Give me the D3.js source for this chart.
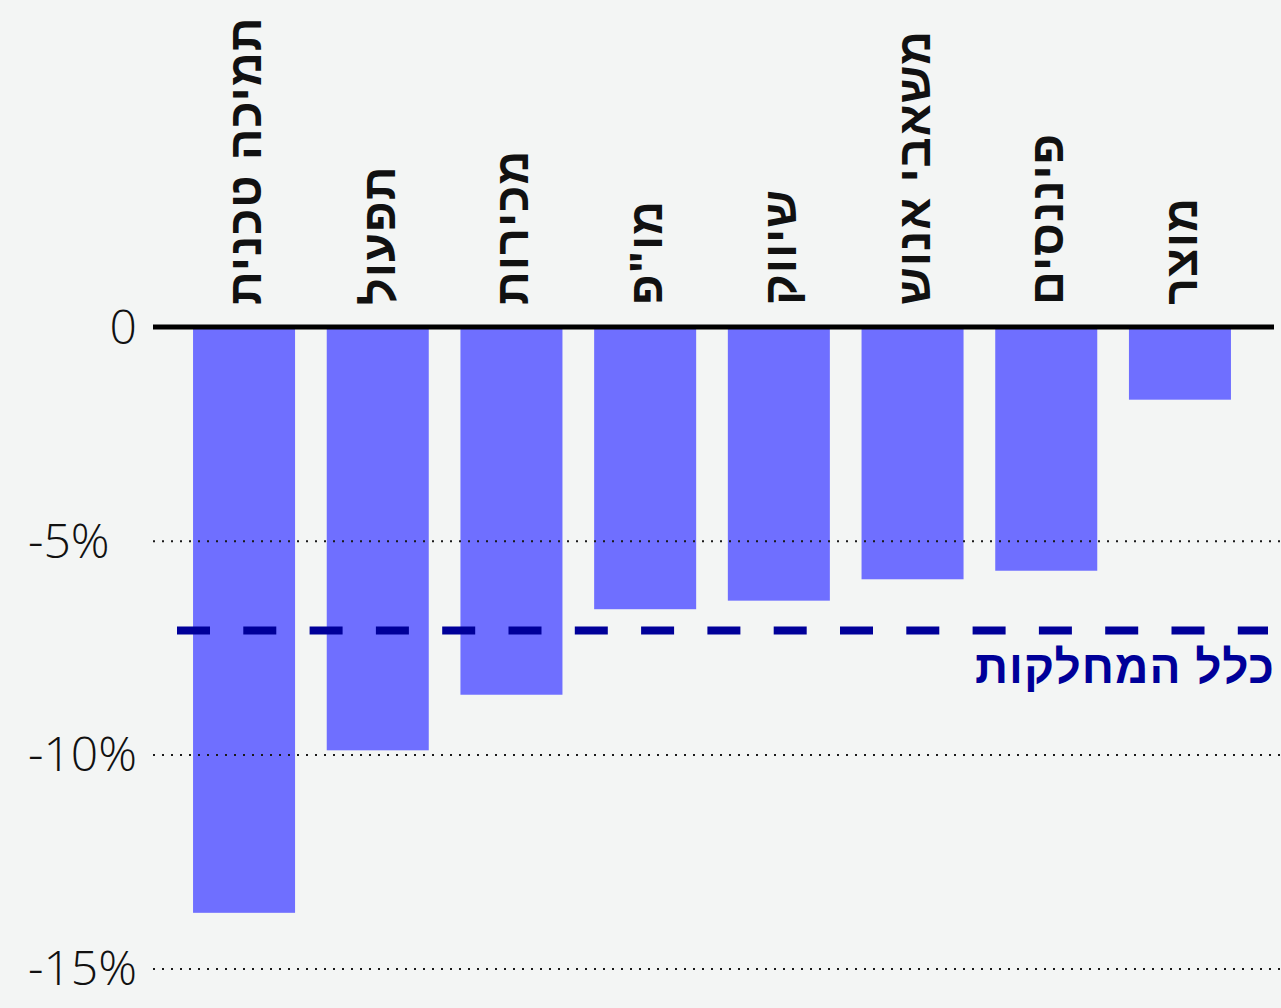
<!DOCTYPE html>
<html lang="he">
<head>
<meta charset="utf-8">
<script src="https://cdn.jsdelivr.net/npm/d3@7"></script>
<style>
  html, body { margin: 0; padding: 0; background: #f3f5f4; }
  svg { display: block; }
</style>
</head>
<body>
<svg id="chart" width="1281" height="1008"></svg>
<script>
// Change per department (percent)
const departments = ["תמיכה טכנית", "תפעול", "מכירות", "מו\"פ", "שיווק", "משאבי אנוש", "פיננסים", "מוצר"];
const changes = [-13.7, -9.9, -8.6, -6.6, -6.4, -5.9, -5.7, -1.7];
const averageChange = -7.1;
const averageLabel = "כלל המחלקות";
const yTicks = [0, -5, -10, -15];
const yTickLabels = ["0", "-5%", "-10%", "-15%"];

const svg = d3.select("#chart");
const W = 1281, H = 1008;
const hebFont = "'Liberation Sans', 'Open Sans', 'DejaVu Sans', sans-serif";

svg.append("rect").attr("width", W).attr("height", H).attr("fill", "#f3f5f4");

const x = d3.scaleBand()
  .domain(departments)
  .range([177.2, 1246.8])
  .paddingInner(0.237)
  .paddingOuter(0.1185);

const y = d3.scaleLinear()
  .domain([0, -15])
  .range([327, 968.4]);

const gridLeft = 153;

// bars
svg.append("g")
  .selectAll("rect")
  .data(departments)
  .join("rect")
  .attr("x", d => x(d))
  .attr("width", x.bandwidth())
  .attr("y", y(0))
  .attr("height", (d, i) => y(changes[i]) - y(0))
  .attr("fill", "#6f6fff");

// dotted gridlines (drawn over bars)
const yAxis = d3.axisLeft(y)
  .tickValues(yTicks.filter(t => t !== 0))
  .tickSize(-(W - gridLeft))
  .tickFormat("");
const gridG = svg.append("g")
  .attr("transform", `translate(${gridLeft},0)`)
  .call(yAxis);
gridG.select(".domain").remove();
gridG.selectAll(".tick line")
  .attr("stroke", "#1a1a1a")
  .attr("stroke-width", 2)
  .attr("stroke-dasharray", "2 7");

// tick labels
svg.append("g")
  .selectAll("text")
  .data(yTicks)
  .join("text")
  .attr("x", d => d === 0 ? 137 : 28)
  .attr("y", d => y(d))
  .attr("dy", "0.35em")
  .attr("text-anchor", d => d === 0 ? "end" : "start")
  .attr("font-family", "'Open Sans', 'Noto Sans', sans-serif")
  .attr("font-weight", 300)
  .attr("font-size", 48)
  .attr("fill", "#111")
  .text((d, i) => yTickLabels[i]);

// zero baseline
svg.append("line")
  .attr("x1", gridLeft).attr("x2", 1274)
  .attr("y1", y(0)).attr("y2", y(0))
  .attr("stroke", "#000")
  .attr("stroke-width", 5);

// department labels, rotated above the baseline
svg.append("g")
  .selectAll("text")
  .data(departments)
  .join("text")
  .attr("transform", d => `translate(${x(d) + x.bandwidth() / 2 + 17},305) rotate(-90)`)
  .attr("text-anchor", "start")
  .attr("direction", "ltr")
  .attr("font-family", hebFont)
  .attr("font-weight", 700)
  .attr("font-size", 47)
  .attr("letter-spacing", 1)
  .attr("fill", "#111")
  .text(d => d);

// all-departments average
svg.append("line")
  .attr("x1", 177).attr("x2", 1268)
  .attr("y1", y(averageChange)).attr("y2", y(averageChange))
  .attr("stroke", "#000099")
  .attr("stroke-width", 8)
  .attr("stroke-dasharray", "33 33.3");

svg.append("text")
  .attr("x", 1275)
  .attr("y", 683)
  .attr("text-anchor", "end")
  .attr("direction", "ltr")
  .attr("font-family", hebFont)
  .attr("font-weight", 700)
  .attr("font-size", 46)
  .attr("letter-spacing", 1)
  .attr("fill", "#000099")
  .text(averageLabel);
</script>
</body>
</html>
